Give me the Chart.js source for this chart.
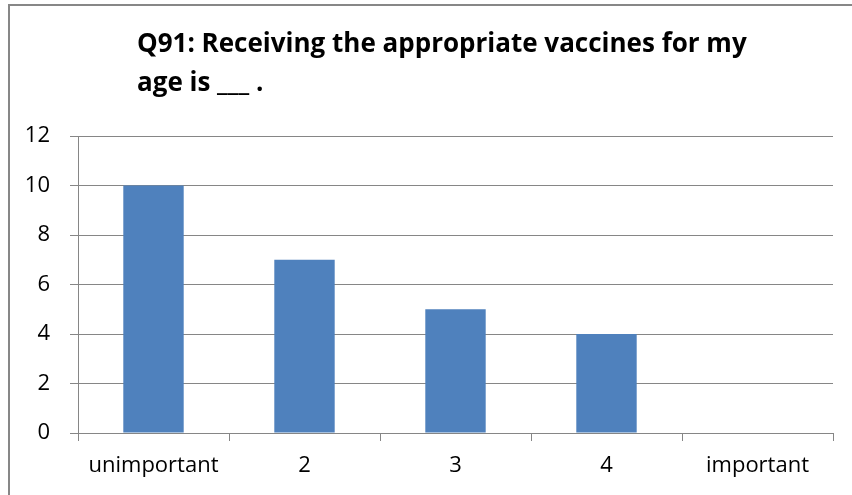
<!DOCTYPE html>
<html>
<head>
<meta charset="utf-8">
<script src="https://cdn.jsdelivr.net/npm/chart.js@4/dist/chart.umd.min.js"></script>
<style>
  html, body { margin: 0; padding: 0; background: #fff; }
  #wrap { position: relative; width: 852px; height: 495px; overflow: hidden; }
  #frame { position: absolute; left: 8px; top: 4px; width: 850px; height: 500px;
           border-left: 2px solid #878787; border-top: 2px solid #878787; }
  #chart { position: absolute; left: 0; top: 0; }
</style>
</head>
<body>
<div id="wrap">
  <div id="frame"></div>
  <canvas id="chart" width="852" height="495"></canvas>
</div>
<script>
var titleLines = ["Q91: Receiving the appropriate vaccines for my", "age is ___ ."];
var categories = ["unimportant", "2", "3", "4", "important"];
var counts = [10, 7, 5, 4, 0];
var yTicks = [0, 2, 4, 6, 8, 10, 12];

var gridColor = "#868686";
var fontName = "'Open Sans', 'Liberation Sans', sans-serif";

// title is left aligned on two lines, so draw it ourselves
var titlePlugin = {
  id: "leftTitle",
  afterDraw: function(chart) {
    var ctx = chart.ctx;
    ctx.save();
    ctx.fillStyle = "#000";
    ctx.font = "bold 26px " + fontName;
    ctx.textBaseline = "alphabetic";
    ctx.textAlign = "left";
    ctx.fillText(titleLines[0], 137, 52);
    ctx.fillText(titleLines[1], 137, 91);
    ctx.restore();
  }
};

var canvasElement = document.getElementById("chart");
var config = {
  type: "bar",
  data: {
    labels: categories,
    datasets: [{
      label: "Count",
      data: counts,
      backgroundColor: "#4F81BD",
      borderWidth: 0,
      barPercentage: 0.4,
      categoryPercentage: 1.0
    }]
  },
  options: {
    responsive: false,
    animation: false,
    layout: { padding: { top: 136, right: 19, bottom: 0, left: 0 } },
    plugins: {
      legend: { display: false },
      title: { display: false },
      tooltip: { enabled: false }
    },
    scales: {
      x: {
        offset: true,
        grid: { offset: true, drawOnChartArea: false, drawTicks: true, tickLength: 8, color: gridColor },
        border: { color: gridColor, width: 1 },
        ticks: { color: "#000", font: { family: fontName, size: 22 }, padding: 12, maxRotation: 0 },
        afterFit: function(scale) { scale.height = 62; }
      },
      y: {
        min: 0,
        max: 12,
        afterBuildTicks: function(scale) {
          scale.ticks = yTicks.map(function(v) { return { value: v }; });
        },
        grid: { color: gridColor, tickLength: 8 },
        border: { color: gridColor, width: 1 },
        ticks: { color: "#000", font: { family: fontName, size: 22 }, padding: 20 },
        afterFit: function(scale) { scale.width = 78; }
      }
    }
  },
  plugins: [titlePlugin]
};

var vaccineChart = new Chart(canvasElement, config);
</script>
</body>
</html>
